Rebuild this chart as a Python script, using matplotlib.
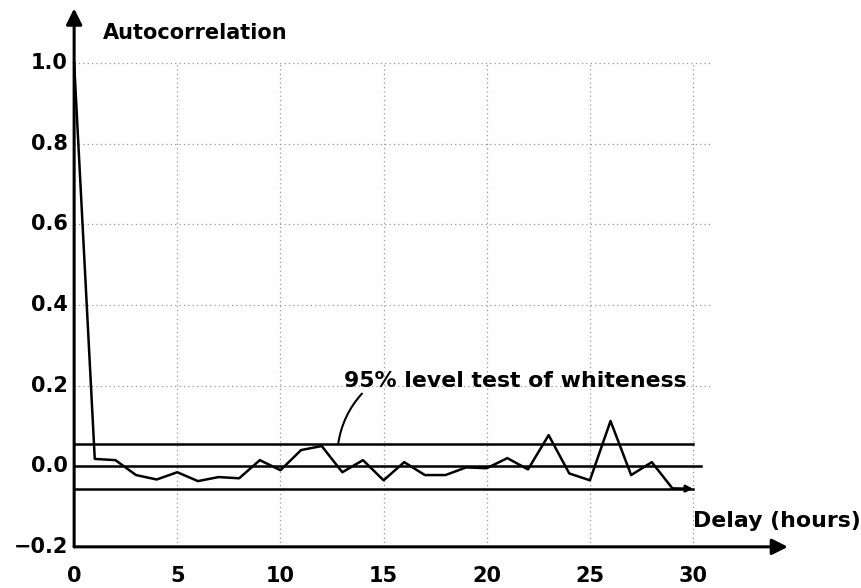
import matplotlib.pyplot as plt
import numpy as np

# autocorrelation of residuals vs delay (hours)
lags = np.arange(0, 31)
acf = [1.0, 0.018, 0.015, -0.022, -0.033, -0.015, -0.037, -0.027, -0.03, 0.015,
       -0.01, 0.04, 0.05, -0.015, 0.015, -0.035, 0.01, -0.022, -0.022, -0.003,
       -0.005, 0.02, -0.008, 0.077, -0.018, -0.035, 0.112, -0.022, 0.01, -0.055,
       -0.056]
conf = 0.056  # 95% whiteness bound

xticks = [0, 5, 10, 15, 20, 25, 30]
yticks = [-0.2, 0.0, 0.2, 0.4, 0.6, 0.8, 1.0]
ytick_labels = ['-0.2', '0.0', '0.2', '0.4', '0.6', '0.8', '1.0']

fnt = ['DejaVu Sans']

fig = plt.figure(figsize=(8.62, 5.88), dpi=100)
ax = fig.add_axes([0.086, 0.07, 0.718, 0.823])
ax.set_xlim(0, 30)
ax.set_ylim(-0.2, 1.0)
for s in ax.spines.values():
    s.set_visible(False)
ax.set_xticks([])
ax.set_yticks([])

# dotted grid
for x in xticks[1:]:
    ax.plot([x, x], [-0.2, 1.0], ls=(0, (1, 2.5)), color='#999999', lw=0.9,
            clip_on=False, zorder=1)
for y in yticks[2:]:
    ax.plot([0, 30.8], [y, y], ls=(0, (1, 2.5)), color='#999999', lw=0.9,
            clip_on=False, zorder=1)

# zero line and confidence bounds
ax.plot([0, 30.4], [0, 0], color='k', lw=1.8, clip_on=False, zorder=2)
ax.plot([0, 30], [conf, conf], color='k', lw=1.8, clip_on=False, zorder=2)
ax.plot([0, 30], [-conf, -conf], color='k', lw=1.8, clip_on=False, zorder=2)

# autocorrelation curve, with arrow at the end
ax.plot(lags[:-1], acf[:-1], color='k', lw=1.8, clip_on=False, zorder=3)
ax.annotate('', xy=(lags[-1], acf[-1]), xytext=(lags[-2], acf[-2]),
            arrowprops=dict(arrowstyle='-|>', color='k', lw=1.8,
                            mutation_scale=10, shrinkA=0, shrinkB=0),
            annotation_clip=False, zorder=3)

# axes with arrows
ax.annotate('', xy=(34.6, -0.2), xytext=(0, -0.2),
            arrowprops=dict(arrowstyle='-|>', color='k', lw=2.2,
                            mutation_scale=24, shrinkA=0, shrinkB=0),
            annotation_clip=False)
ax.annotate('', xy=(0, 1.135), xytext=(0, -0.2),
            arrowprops=dict(arrowstyle='-|>', color='k', lw=2.2,
                            mutation_scale=24, shrinkA=0, shrinkB=0),
            annotation_clip=False)

# tick labels
for x in xticks:
    ax.text(x, -0.272, str(x), ha='center', va='center', fontsize=15,
            fontweight='bold', family=fnt)
for y, lab in zip(yticks, ytick_labels):
    ax.text(-0.3, y, lab.replace('-', '\u2212'), ha='right', va='center',
            fontsize=15, fontweight='bold', family=fnt)

ax.text(1.4, 1.075, 'Autocorrelation', ha='left', va='center', fontsize=15,
        fontweight='bold', family=fnt)
ax.text(30.0, -0.136, 'Delay (hours)', ha='left', va='center', fontsize=15.8,
        fontweight='bold', family=fnt)

# annotation for the whiteness bounds
ax.text(13.1, 0.21, '95% level test of whiteness', ha='left', va='center',
        fontsize=15.8, fontweight='bold', family=fnt)
ax.annotate('', xy=(12.8, conf), xytext=(13.95, 0.18),
            arrowprops=dict(arrowstyle='-', color='k', lw=1.5,
                            connectionstyle='arc3,rad=0.15',
                            shrinkA=0, shrinkB=0),
            annotation_clip=False)

fig.savefig('out.png', dpi=100, facecolor='white')
